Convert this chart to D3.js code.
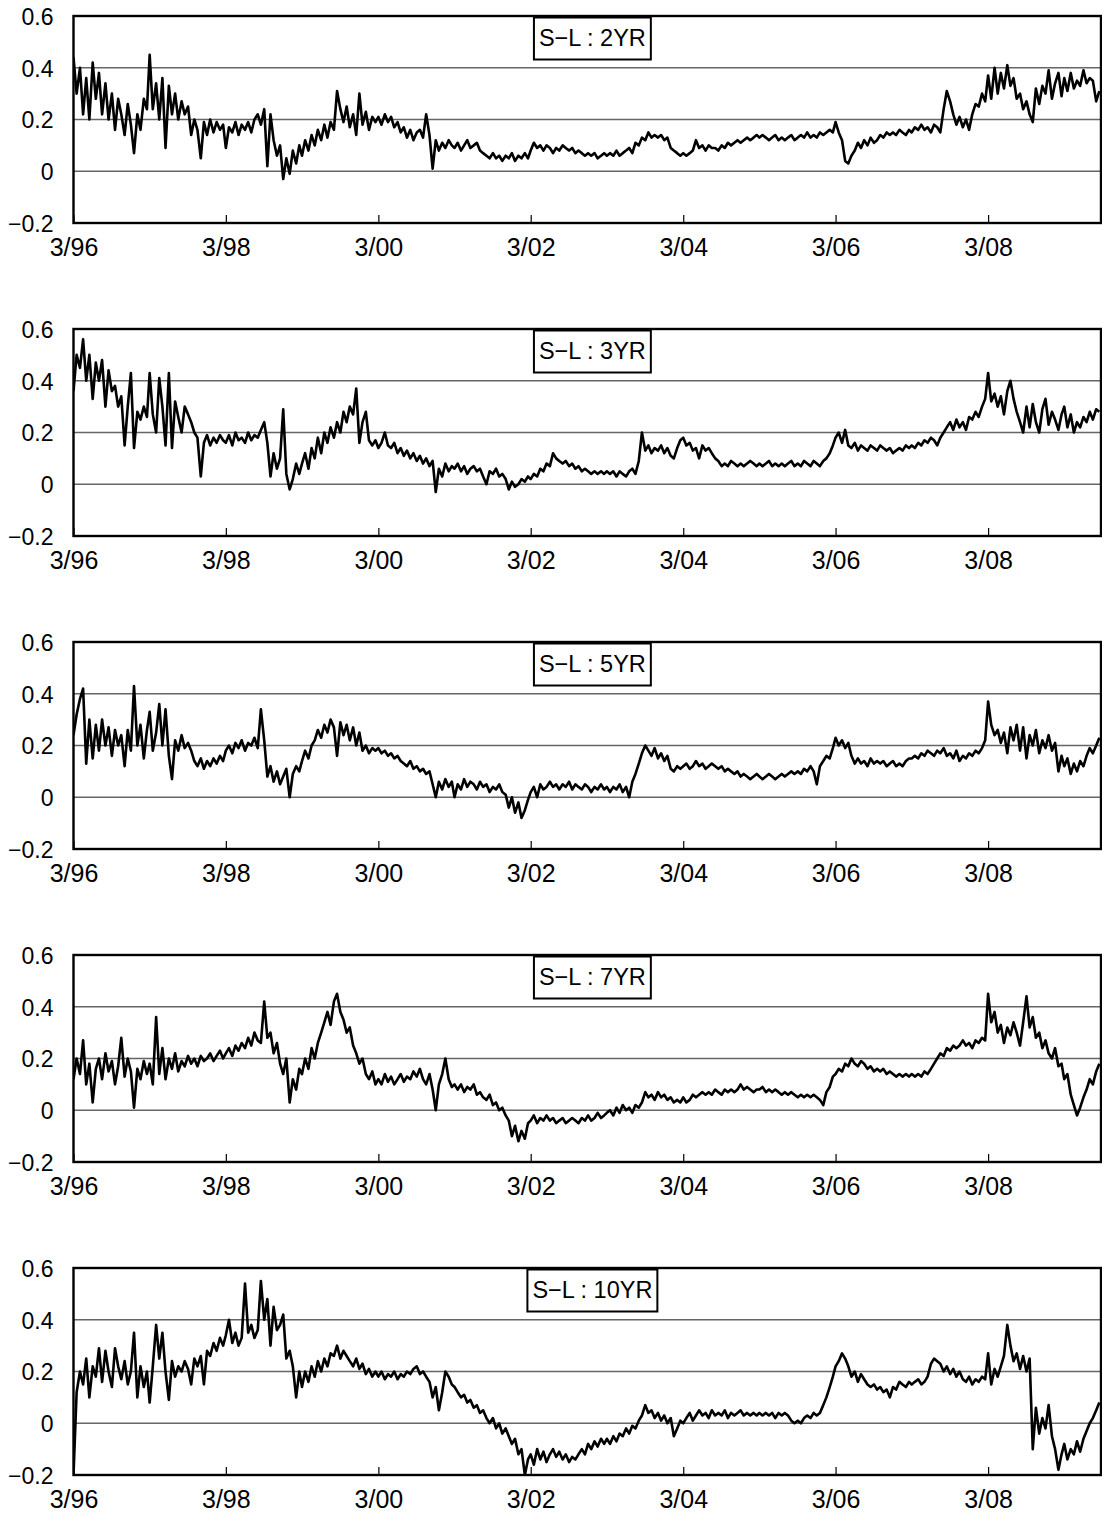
<!DOCTYPE html>
<meta charset="utf-8">

<style>
    body { margin: 0; background: #fff; }
    text { fill: #000; }
</style>

<body>
<script src="https://d3js.org/d3.v7.min.js"></script>
<script>

// S-L spread, one value on the 1st and the 16th of each month from 3/96 (one row = Mar..Feb)
var spread2yr = [
    0.44, 0.30, 0.40, 0.22, 0.36, 0.20, 0.42, 0.28, 0.38, 0.22, 0.34, 0.20, 0.30, 0.16, 0.28, 0.22, 0.14, 0.26, 0.18, 0.07, 0.22, 0.16, 0.28, 0.24,
    0.45, 0.24, 0.34, 0.20, 0.36, 0.09, 0.33, 0.22, 0.30, 0.20, 0.27, 0.22, 0.25, 0.14, 0.20, 0.16, 0.05, 0.19, 0.14, 0.20, 0.15, 0.19, 0.16, 0.18,
    0.09, 0.17, 0.15, 0.19, 0.14, 0.18, 0.16, 0.19, 0.15, 0.20, 0.22, 0.18, 0.24, 0.02, 0.22, 0.12, 0.06, 0.10, -0.03, 0.05, -0.01, 0.08, 0.03, 0.10,
    0.06, 0.12, 0.08, 0.14, 0.10, 0.16, 0.12, 0.18, 0.13, 0.19, 0.16, 0.31, 0.24, 0.19, 0.25, 0.17, 0.22, 0.14, 0.30, 0.18, 0.23, 0.16, 0.21, 0.19,
    0.21, 0.18, 0.22, 0.19, 0.21, 0.17, 0.19, 0.15, 0.17, 0.13, 0.16, 0.12, 0.15, 0.16, 0.13, 0.22, 0.14, 0.01, 0.12, 0.08, 0.11, 0.09, 0.12, 0.10,
    0.09, 0.11, 0.08, 0.10, 0.12, 0.09, 0.10, 0.11, 0.08, 0.07, 0.06, 0.05, 0.07, 0.05, 0.06, 0.04, 0.06, 0.05, 0.07, 0.04, 0.06, 0.05, 0.07, 0.05,
    0.08, 0.11, 0.09, 0.10, 0.08, 0.10, 0.09, 0.07, 0.09, 0.08, 0.10, 0.09, 0.08, 0.09, 0.07, 0.08, 0.07, 0.06, 0.07, 0.06, 0.07, 0.05, 0.06, 0.07,
    0.06, 0.07, 0.06, 0.08, 0.06, 0.07, 0.08, 0.09, 0.07, 0.11, 0.10, 0.13, 0.12, 0.15, 0.13, 0.14, 0.13, 0.14, 0.12, 0.13, 0.09, 0.08, 0.07, 0.06,
    0.07, 0.06, 0.07, 0.08, 0.12, 0.09, 0.10, 0.08, 0.10, 0.09, 0.09, 0.08, 0.10, 0.09, 0.11, 0.10, 0.11, 0.12, 0.11, 0.12, 0.13, 0.12, 0.13, 0.14,
    0.13, 0.14, 0.13, 0.12, 0.13, 0.14, 0.12, 0.13, 0.12, 0.13, 0.14, 0.12, 0.13, 0.14, 0.13, 0.15, 0.13, 0.14, 0.13, 0.15, 0.14, 0.15, 0.16, 0.15,
    0.19, 0.15, 0.12, 0.04, 0.03, 0.06, 0.08, 0.11, 0.09, 0.12, 0.10, 0.13, 0.11, 0.12, 0.14, 0.13, 0.15, 0.14, 0.15, 0.14, 0.16, 0.15, 0.14, 0.16,
    0.15, 0.17, 0.16, 0.18, 0.16, 0.17, 0.15, 0.18, 0.17, 0.15, 0.24, 0.31, 0.27, 0.22, 0.18, 0.21, 0.17, 0.20, 0.16, 0.22, 0.26, 0.25, 0.30, 0.27,
    0.37, 0.28, 0.40, 0.30, 0.38, 0.32, 0.41, 0.33, 0.36, 0.28, 0.30, 0.24, 0.27, 0.22, 0.19, 0.32, 0.26, 0.33, 0.30, 0.39, 0.28, 0.34, 0.38, 0.29,
    0.36, 0.31, 0.38, 0.32, 0.35, 0.33, 0.39, 0.34, 0.36, 0.35, 0.27, 0.31
];

var spread3yr = [
    0.36, 0.50, 0.45, 0.56, 0.40, 0.50, 0.33, 0.47, 0.40, 0.48, 0.30, 0.44, 0.36, 0.38, 0.30, 0.34, 0.15, 0.30, 0.43, 0.14, 0.28, 0.25, 0.30, 0.26,
    0.43, 0.27, 0.20, 0.41, 0.30, 0.15, 0.43, 0.14, 0.32, 0.26, 0.20, 0.30, 0.27, 0.24, 0.20, 0.18, 0.03, 0.16, 0.19, 0.15, 0.18, 0.16, 0.19, 0.17,
    0.16, 0.19, 0.15, 0.20, 0.17, 0.18, 0.16, 0.20, 0.17, 0.19, 0.18, 0.21, 0.24, 0.16, 0.03, 0.12, 0.06, 0.10, 0.29, 0.04, -0.02, 0.02, 0.08, 0.04,
    0.08, 0.12, 0.06, 0.14, 0.10, 0.18, 0.12, 0.20, 0.16, 0.22, 0.18, 0.24, 0.20, 0.28, 0.24, 0.30, 0.27, 0.37, 0.16, 0.24, 0.28, 0.17, 0.15, 0.17,
    0.14, 0.16, 0.20, 0.15, 0.14, 0.16, 0.12, 0.14, 0.11, 0.13, 0.10, 0.12, 0.09, 0.11, 0.08, 0.10, 0.07, 0.09, -0.03, 0.06, 0.03, 0.08, 0.05, 0.07,
    0.06, 0.08, 0.05, 0.07, 0.04, 0.06, 0.07, 0.05, 0.06, 0.03, 0.00, 0.05, 0.04, 0.06, 0.03, 0.04, 0.02, -0.02, 0.01, -0.01, 0.00, 0.02, 0.01, 0.03,
    0.02, 0.04, 0.03, 0.06, 0.05, 0.08, 0.07, 0.12, 0.10, 0.09, 0.08, 0.09, 0.07, 0.08, 0.06, 0.07, 0.05, 0.06, 0.05, 0.04, 0.05, 0.04, 0.05, 0.04,
    0.05, 0.04, 0.05, 0.03, 0.05, 0.04, 0.03, 0.05, 0.06, 0.04, 0.09, 0.20, 0.13, 0.15, 0.12, 0.14, 0.13, 0.15, 0.12, 0.14, 0.11, 0.10, 0.14, 0.17,
    0.18, 0.15, 0.16, 0.13, 0.14, 0.10, 0.15, 0.13, 0.14, 0.12, 0.10, 0.09, 0.07, 0.08, 0.07, 0.09, 0.08, 0.07, 0.08, 0.07, 0.08, 0.09, 0.08, 0.07,
    0.08, 0.07, 0.08, 0.09, 0.07, 0.08, 0.07, 0.08, 0.07, 0.08, 0.09, 0.07, 0.08, 0.07, 0.09, 0.08, 0.07, 0.09, 0.08, 0.07, 0.09, 0.10, 0.12, 0.15,
    0.18, 0.20, 0.16, 0.21, 0.15, 0.14, 0.16, 0.13, 0.15, 0.14, 0.13, 0.15, 0.14, 0.13, 0.15, 0.14, 0.13, 0.14, 0.12, 0.13, 0.14, 0.13, 0.15, 0.14,
    0.15, 0.14, 0.16, 0.15, 0.17, 0.16, 0.18, 0.17, 0.15, 0.18, 0.20, 0.22, 0.24, 0.21, 0.25, 0.22, 0.24, 0.21, 0.26, 0.25, 0.28, 0.26, 0.30, 0.33,
    0.43, 0.32, 0.35, 0.30, 0.34, 0.27, 0.36, 0.40, 0.33, 0.28, 0.24, 0.20, 0.30, 0.22, 0.31, 0.24, 0.20, 0.29, 0.33, 0.23, 0.28, 0.25, 0.21, 0.27,
    0.30, 0.22, 0.27, 0.20, 0.24, 0.22, 0.26, 0.24, 0.28, 0.25, 0.29, 0.28
];

var spread5yr = [
    0.24, 0.32, 0.38, 0.42, 0.13, 0.30, 0.15, 0.28, 0.18, 0.30, 0.20, 0.27, 0.16, 0.26, 0.20, 0.24, 0.12, 0.26, 0.18, 0.43, 0.20, 0.28, 0.15, 0.26,
    0.33, 0.18, 0.25, 0.36, 0.20, 0.34, 0.16, 0.07, 0.22, 0.18, 0.24, 0.19, 0.21, 0.18, 0.14, 0.12, 0.15, 0.11, 0.14, 0.12, 0.15, 0.13, 0.16, 0.14,
    0.18, 0.20, 0.17, 0.21, 0.19, 0.22, 0.18, 0.21, 0.20, 0.23, 0.19, 0.34, 0.22, 0.08, 0.12, 0.06, 0.10, 0.05, 0.08, 0.11, 0.00, 0.09, 0.12, 0.10,
    0.14, 0.18, 0.15, 0.20, 0.22, 0.26, 0.23, 0.28, 0.25, 0.30, 0.27, 0.16, 0.29, 0.24, 0.28, 0.22, 0.27, 0.20, 0.25, 0.18, 0.20, 0.17, 0.19, 0.18,
    0.19, 0.17, 0.18, 0.16, 0.17, 0.15, 0.16, 0.14, 0.13, 0.12, 0.14, 0.11, 0.12, 0.10, 0.11, 0.09, 0.10, 0.05, 0.00, 0.06, 0.03, 0.07, 0.04, 0.06,
    0.00, 0.05, 0.03, 0.07, 0.04, 0.06, 0.05, 0.03, 0.06, 0.04, 0.05, 0.02, 0.04, 0.03, 0.05, 0.02, 0.01, -0.04, 0.00, -0.06, -0.02, -0.08, -0.05, -0.01,
    0.02, 0.04, 0.00, 0.05, 0.03, 0.04, 0.06, 0.04, 0.05, 0.03, 0.05, 0.04, 0.06, 0.03, 0.05, 0.04, 0.03, 0.05, 0.04, 0.02, 0.04, 0.03, 0.05, 0.03,
    0.04, 0.02, 0.04, 0.03, 0.05, 0.02, 0.04, 0.00, 0.06, 0.09, 0.13, 0.17, 0.20, 0.18, 0.16, 0.19, 0.15, 0.17, 0.14, 0.16, 0.11, 0.10, 0.12, 0.11,
    0.12, 0.13, 0.11, 0.12, 0.14, 0.12, 0.13, 0.11, 0.12, 0.13, 0.12, 0.11, 0.12, 0.10, 0.11, 0.10, 0.09, 0.10, 0.08, 0.09, 0.08, 0.07, 0.08, 0.09,
    0.08, 0.07, 0.08, 0.09, 0.08, 0.07, 0.08, 0.09, 0.08, 0.09, 0.10, 0.09, 0.10, 0.09, 0.11, 0.10, 0.12, 0.10, 0.05, 0.12, 0.14, 0.16, 0.15, 0.19,
    0.23, 0.20, 0.22, 0.19, 0.21, 0.16, 0.13, 0.15, 0.13, 0.14, 0.12, 0.15, 0.13, 0.14, 0.13, 0.14, 0.12, 0.13, 0.14, 0.12, 0.13, 0.12, 0.14, 0.15,
    0.15, 0.16, 0.15, 0.17, 0.16, 0.18, 0.17, 0.16, 0.18, 0.17, 0.19, 0.16, 0.17, 0.15, 0.18, 0.14, 0.16, 0.15, 0.17, 0.16, 0.18, 0.17, 0.19, 0.22,
    0.37, 0.28, 0.24, 0.26, 0.21, 0.25, 0.17, 0.27, 0.22, 0.28, 0.18, 0.27, 0.15, 0.24, 0.20, 0.26, 0.17, 0.22, 0.19, 0.24, 0.18, 0.21, 0.10, 0.16,
    0.12, 0.15, 0.09, 0.13, 0.10, 0.14, 0.12, 0.16, 0.19, 0.17, 0.20, 0.23
];

var spread7yr = [
    0.12, 0.20, 0.14, 0.27, 0.10, 0.18, 0.03, 0.16, 0.20, 0.12, 0.22, 0.15, 0.19, 0.10, 0.17, 0.28, 0.13, 0.20, 0.15, 0.01, 0.16, 0.12, 0.19, 0.14,
    0.18, 0.10, 0.36, 0.14, 0.24, 0.12, 0.20, 0.16, 0.22, 0.15, 0.19, 0.17, 0.21, 0.18, 0.20, 0.17, 0.21, 0.19, 0.20, 0.22, 0.19, 0.21, 0.23, 0.20,
    0.22, 0.24, 0.21, 0.25, 0.23, 0.26, 0.24, 0.28, 0.25, 0.30, 0.27, 0.26, 0.42, 0.28, 0.30, 0.22, 0.26, 0.18, 0.14, 0.20, 0.03, 0.12, 0.08, 0.16,
    0.14, 0.20, 0.16, 0.24, 0.20, 0.26, 0.30, 0.34, 0.38, 0.33, 0.42, 0.45, 0.38, 0.35, 0.30, 0.32, 0.25, 0.22, 0.18, 0.20, 0.14, 0.12, 0.15, 0.10,
    0.12, 0.10, 0.14, 0.11, 0.13, 0.10, 0.12, 0.14, 0.11, 0.13, 0.12, 0.15, 0.13, 0.16, 0.12, 0.10, 0.14, 0.08, 0.00, 0.10, 0.14, 0.20, 0.12, 0.09,
    0.10, 0.08, 0.10, 0.07, 0.09, 0.08, 0.10, 0.06, 0.07, 0.05, 0.04, 0.06, 0.02, 0.03, 0.00, 0.01, -0.02, -0.04, -0.10, -0.06, -0.12, -0.08, -0.11, -0.05,
    -0.04, -0.02, -0.05, -0.03, -0.04, -0.02, -0.04, -0.03, -0.05, -0.04, -0.03, -0.05, -0.04, -0.03, -0.04, -0.05, -0.03, -0.04, -0.02, -0.04, -0.03, -0.01, -0.03, -0.02,
    -0.01, 0.00, -0.02, 0.01, -0.01, 0.02, 0.00, 0.01, -0.01, 0.02, 0.01, 0.03, 0.07, 0.05, 0.06, 0.04, 0.07, 0.05, 0.06, 0.04, 0.05, 0.03, 0.04, 0.03,
    0.05, 0.03, 0.04, 0.06, 0.05, 0.06, 0.07, 0.06, 0.07, 0.06, 0.08, 0.07, 0.06, 0.08, 0.07, 0.08, 0.07, 0.08, 0.10, 0.08, 0.09, 0.08, 0.07, 0.08,
    0.08, 0.09, 0.07, 0.08, 0.07, 0.08, 0.07, 0.06, 0.07, 0.06, 0.07, 0.06, 0.05, 0.06, 0.05, 0.06, 0.05, 0.06, 0.05, 0.04, 0.02, 0.07, 0.09, 0.13,
    0.14, 0.16, 0.15, 0.18, 0.17, 0.20, 0.18, 0.17, 0.19, 0.18, 0.16, 0.17, 0.15, 0.16, 0.15, 0.16, 0.14, 0.15, 0.14, 0.13, 0.14, 0.13, 0.14, 0.13,
    0.14, 0.13, 0.14, 0.13, 0.15, 0.14, 0.16, 0.18, 0.20, 0.22, 0.21, 0.24, 0.23, 0.25, 0.24, 0.25, 0.27, 0.25, 0.26, 0.24, 0.27, 0.26, 0.28, 0.27,
    0.45, 0.34, 0.38, 0.30, 0.33, 0.26, 0.32, 0.29, 0.34, 0.30, 0.25, 0.34, 0.44, 0.32, 0.36, 0.28, 0.30, 0.24, 0.27, 0.22, 0.20, 0.24, 0.17, 0.18,
    0.12, 0.14, 0.06, 0.02, -0.02, 0.01, 0.05, 0.08, 0.12, 0.10, 0.15, 0.18
];

var spread10yr = [
    -0.20, 0.12, 0.20, 0.15, 0.25, 0.10, 0.22, 0.18, 0.29, 0.16, 0.28, 0.20, 0.14, 0.29, 0.22, 0.17, 0.24, 0.15, 0.20, 0.35, 0.10, 0.22, 0.14, 0.20,
    0.08, 0.22, 0.38, 0.25, 0.35, 0.20, 0.09, 0.24, 0.18, 0.22, 0.20, 0.24, 0.21, 0.15, 0.25, 0.22, 0.26, 0.15, 0.28, 0.26, 0.31, 0.28, 0.33, 0.30,
    0.34, 0.40, 0.31, 0.35, 0.30, 0.33, 0.54, 0.35, 0.38, 0.33, 0.36, 0.55, 0.40, 0.48, 0.30, 0.45, 0.36, 0.38, 0.42, 0.25, 0.28, 0.22, 0.10, 0.20,
    0.14, 0.20, 0.16, 0.22, 0.18, 0.24, 0.20, 0.25, 0.22, 0.27, 0.26, 0.30, 0.25, 0.28, 0.26, 0.24, 0.22, 0.25, 0.21, 0.23, 0.19, 0.21, 0.18, 0.20,
    0.18, 0.20, 0.17, 0.19, 0.18, 0.20, 0.17, 0.19, 0.18, 0.20, 0.19, 0.21, 0.22, 0.19, 0.20, 0.18, 0.16, 0.10, 0.14, 0.05, 0.12, 0.20, 0.18, 0.15,
    0.14, 0.12, 0.10, 0.11, 0.08, 0.09, 0.06, 0.07, 0.04, 0.05, 0.02, 0.00, 0.02, -0.02, 0.00, -0.04, -0.02, -0.05, -0.08, -0.06, -0.12, -0.10, -0.20, -0.14,
    -0.12, -0.16, -0.10, -0.14, -0.11, -0.15, -0.12, -0.10, -0.13, -0.11, -0.14, -0.12, -0.15, -0.13, -0.14, -0.12, -0.10, -0.12, -0.08, -0.10, -0.07, -0.09, -0.06, -0.08,
    -0.06, -0.08, -0.05, -0.07, -0.04, -0.05, -0.02, -0.04, -0.01, -0.02, 0.01, 0.03, 0.07, 0.04, 0.05, 0.02, 0.04, 0.01, 0.03, 0.00, 0.02, -0.05, -0.02, 0.01,
    0.00, 0.02, 0.04, 0.01, 0.03, 0.05, 0.03, 0.04, 0.02, 0.05, 0.03, 0.04, 0.03, 0.05, 0.02, 0.04, 0.03, 0.04, 0.05, 0.03, 0.04, 0.03, 0.04, 0.03,
    0.04, 0.03, 0.04, 0.03, 0.04, 0.02, 0.04, 0.03, 0.04, 0.03, 0.01, 0.00, 0.01, 0.00, 0.02, 0.03, 0.02, 0.04, 0.03, 0.04, 0.07, 0.10, 0.14, 0.18,
    0.22, 0.24, 0.27, 0.25, 0.22, 0.18, 0.20, 0.16, 0.19, 0.17, 0.15, 0.14, 0.15, 0.13, 0.14, 0.12, 0.13, 0.10, 0.14, 0.13, 0.16, 0.15, 0.14, 0.16,
    0.15, 0.16, 0.17, 0.15, 0.16, 0.18, 0.23, 0.25, 0.24, 0.23, 0.20, 0.22, 0.19, 0.21, 0.18, 0.20, 0.17, 0.16, 0.18, 0.15, 0.17, 0.16, 0.18, 0.17,
    0.27, 0.15, 0.21, 0.18, 0.22, 0.26, 0.38, 0.30, 0.24, 0.27, 0.21, 0.26, 0.20, 0.25, -0.10, 0.06, -0.04, 0.02, -0.02, 0.07, -0.05, -0.10, -0.18, -0.12,
    -0.08, -0.14, -0.10, -0.12, -0.07, -0.11, -0.06, -0.03, 0.00, 0.02, 0.05, 0.08
];

var panelSeries = [spread2yr, spread3yr, spread5yr, spread7yr, spread10yr];
var panelTitles = ['S−L : 2YR', 'S−L : 3YR', 'S−L : 5YR', 'S−L : 7YR', 'S−L : 10YR'];
var yTickValues = [-0.2, 0, 0.2, 0.4, 0.6];
var gridValues = [0, 0.2, 0.4];
var xTickLabels = ['3/96', '3/98', '3/00', '3/02', '3/04', '3/06', '3/08'];

var width = 1102, height = 1515;
var left = 73.5, right = 1101;
var firstTop = 16, panelHeight = 207, panelStep = 313;
var font = '"Liberation Sans", Arial, "Noto Sans CJK JP", sans-serif';

var startDate = new Date(1996, 2, 1);
var endDate = new Date(2009, 7, 24);
var parseTick = d3.timeParse('%m/%y');
var xTickDates = xTickLabels.map(function(s) { return parseTick(s); });

// semi-monthly sample date (1st / 16th)
function sampleDate(i) {
    var d = d3.timeMonth.offset(startDate, Math.floor(i / 2));
    if (i % 2 == 1) d.setDate(16);
    return d;
}

var svg = d3.select('body').append('svg')
    .attr('width', width)
    .attr('height', height);

svg.append('rect')
    .attr('width', width)
    .attr('height', height)
    .attr('fill', '#fff');

var x = d3.scaleTime()
    .domain([startDate, endDate])
    .range([left, right]);

panelSeries.forEach(function(values, p) {
    var top = firstTop + p * panelStep;
    var bottom = top + panelHeight;

    var y = d3.scaleLinear()
        .domain([-0.2, 0.6])
        .range([bottom, top]);

    var g = svg.append('g').attr('class', 'panel');

    g.append('clipPath')
        .attr('id', 'clip' + p)
        .append('rect')
        .attr('x', left)
        .attr('y', top)
        .attr('width', right - left)
        .attr('height', panelHeight);

    // gridlines
    g.selectAll('.grid')
        .data(gridValues)
        .enter().append('line')
        .attr('class', 'grid')
        .attr('x1', left)
        .attr('x2', right)
        .attr('y1', function(d) { return y(d); })
        .attr('y2', function(d) { return y(d); })
        .attr('stroke', '#666')
        .attr('stroke-width', 1.3);

    // y axis
    var yAxis = g.append('g')
        .attr('transform', 'translate(' + left + ',0)')
        .call(d3.axisLeft(y)
            .tickValues(yTickValues)
            .tickSize(0)
            .tickPadding(20)
            .tickFormat(function(d) { return d === 0 ? '0' : d3.format('.1f')(d); }));
    yAxis.select('.domain').remove();
    yAxis.attr('font-family', font).attr('font-size', 23);
    yAxis.selectAll('text').attr('fill', '#000').attr('dy', '0.36em');

    // x axis, ticks point up into the plot
    var xAxis = g.append('g')
        .attr('transform', 'translate(0,' + bottom + ')')
        .call(d3.axisBottom(x)
            .tickValues(xTickDates)
            .tickSizeInner(-8)
            .tickSizeOuter(0)
            .tickPadding(15)
            .tickFormat(function(d, i) { return xTickLabels[i]; }));
    xAxis.select('.domain').remove();
    xAxis.attr('font-family', font).attr('font-size', 25);
    xAxis.selectAll('line').attr('stroke', '#000').attr('stroke-width', 1.2);
    xAxis.selectAll('text').attr('fill', '#000');

    // the series
    var line = d3.line()
        .x(function(d, i) { return x(sampleDate(i)); })
        .y(function(d) { return y(d); });

    g.append('path')
        .datum(values)
        .attr('clip-path', 'url(#clip' + p + ')')
        .attr('fill', 'none')
        .attr('stroke', '#000')
        .attr('stroke-width', 2.6)
        .attr('stroke-linejoin', 'round')
        .attr('d', line);

    // plot border
    g.append('rect')
        .attr('x', left)
        .attr('y', top)
        .attr('width', right - left)
        .attr('height', panelHeight)
        .attr('fill', 'none')
        .attr('stroke', '#000')
        .attr('stroke-width', 2.4);

    // title box
    var boxRect = g.append('rect');
    var title = g.append('text')
        .attr('x', left + (right - left) * 0.505)
        .attr('y', top + 30)
        .attr('text-anchor', 'middle')
        .attr('font-family', font)
        .attr('font-size', 23.5)
        .text(panelTitles[p]);
    var bb = title.node().getBBox();
    boxRect
        .attr('x', bb.x - 5)
        .attr('y', top + 1.5)
        .attr('width', bb.width + 10)
        .attr('height', 42)
        .attr('fill', '#fff')
        .attr('stroke', '#000')
        .attr('stroke-width', 2);
});

</script>
</body>
